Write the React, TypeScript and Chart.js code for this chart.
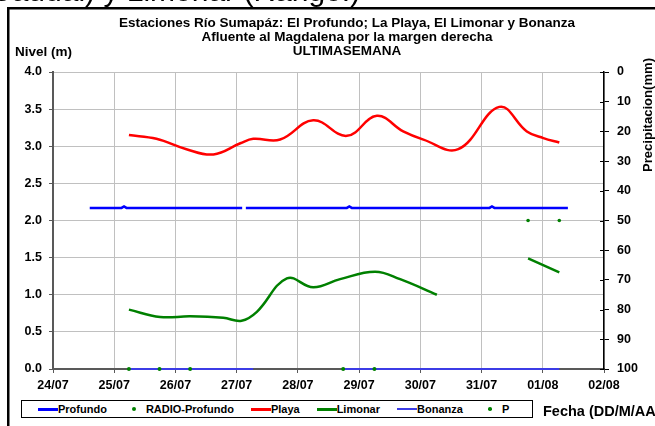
import React, { useEffect, useRef } from "react";
import { Chart, registerables } from "chart.js";

Chart.register(...registerables);

// ---------- data ----------
const dateLabels = ["24/07", "25/07", "26/07", "27/07", "28/07", "29/07", "30/07", "31/07", "01/08", "02/08"];

const titleLines = [
  "Estaciones Río Sumapáz: El Profundo; La Playa, El Limonar y Bonanza",
  "Afluente al Magdalena por la margen derecha",
  "ULTIMASEMANA",
];
const topCutText = "Caudal) y Limonar (Rango.)";
const leftAxisTitle = "Nivel (m)";
const rightAxisTitle = "Precipitacion(mm)";
const bottomAxisTitle = "Fecha (DD/M/AA)";

// x = days since 24/07 00:00
const profundoX = [0.6, 1.12, 1.16, 1.2, 3.09, 3.12, 3.15, 4.8, 4.84, 4.88, 7.13, 7.17, 7.21, 8.41];
const profundoY = [2.17, 2.17, 2.19, 2.17, 2.17, null, 2.17, 2.17, 2.19, 2.17, 2.17, 2.19, 2.17, 2.17];

const radioX = [1.24, 1.74, 2.24, 4.74, 5.25];
const radioY = [0, 0, 0, 0, 0];

const playaX = [1.24, 1.69, 2.18, 2.62, 3.06, 3.27, 3.71, 4.25, 4.8, 5.29, 5.72, 6.05, 6.62, 7.29, 7.74, 8.01, 8.27];
const playaY = [3.15, 3.1, 2.96, 2.89, 3.04, 3.1, 3.09, 3.35, 3.14, 3.41, 3.2, 3.09, 2.96, 3.53, 3.2, 3.11, 3.05];

const limonarX = [1.24, 1.75, 2.24, 2.78, 3.08, 3.33, 3.82, 4.25, 4.69, 5.26, 5.67, 6.27, 7.0, 7.76, 8.27];
const limonarY = [0.8, 0.7, 0.71, 0.69, 0.65, 0.77, 1.22, 1.1, 1.21, 1.31, 1.21, 1.0, null, 1.49, 1.3];

const bonanzaX = [1.24, 3.27, 4.0, 4.74, 8.27];
const bonanzaY = [0, 0, null, 0, 0];

const precipX = [7.76, 8.27];
const precipY = [50, 50];

const seriesNames = ["Profundo", "RADIO-Profundo", "Playa", "Limonar", "Bonanza", "P"];

// ---------- styles ----------
const FONT = "'Liberation Sans', Arial, sans-serif";
const BLUE = "#0000ff";
const GREEN = "#008000";
const RED = "#ff0000";
const BONANZA = "#3c3ce6";
const GRID = "#c0c0c0";
const AXIS = "#595959";

const zip = (xs: number[], ys: (number | null)[]) => xs.map((x, i) => ({ x, y: ys[i] }));

const decorPlugin = {
  id: "decor",
  afterDraw(chart: any) {
    const ctx = chart.ctx as CanvasRenderingContext2D;
    const area = chart.chartArea;
    ctx.save();
    // cut-off text at the very top
    ctx.fillStyle = "#000";
    ctx.font = `30px ${FONT}`;
    ctx.textAlign = "left";
    ctx.textBaseline = "alphabetic";
    ctx.fillText(topCutText, -10, 1);

    // frame
    ctx.fillRect(7, 7, chart.width - 7, 2.5);
    ctx.fillRect(7, 7, 2.5, chart.height - 7);

    // titles
    ctx.font = `bold 13.5px ${FONT}`;
    ctx.textAlign = "center";
    ctx.textBaseline = "middle";
    const widths = [458, 292, 115];
    const ys = [23, 37, 51];
    titleLines.forEach((t, i) => ctx.fillText(t, 347, ys[i], widths[i]));

    // left axis title
    ctx.textAlign = "left";
    ctx.fillText(leftAxisTitle, 15, 52);

    // right axis title (rotated)
    ctx.save();
    ctx.translate(648, 115);
    ctx.rotate(-Math.PI / 2);
    ctx.textAlign = "center";
    ctx.fillText(rightAxisTitle, 0, 0, 114);
    ctx.restore();

    // bottom axis title (runs off the right edge as in the original)
    ctx.font = `bold 14.5px ${FONT}`;
    ctx.fillText(bottomAxisTitle, 543, 412);

    // inner part of crossing ticks on right axis
    const y1 = chart.scales.y1;
    ctx.strokeStyle = "#000";
    ctx.lineWidth = 1;
    y1.ticks.forEach((t: any) => {
      const py = Math.round(y1.getPixelForValue(t.value)) + 0.5;
      ctx.beginPath();
      ctx.moveTo(area.right - 4, py);
      ctx.lineTo(area.right, py);
      ctx.stroke();
    });
    ctx.restore();
  },
};

function ChartCanvas() {
  const ref = useRef<HTMLCanvasElement | null>(null);
  useEffect(() => {
    if (!ref.current) return;
    const tickFont = { family: FONT, size: 12.5, weight: "bold" as const };
    const chart = new Chart(ref.current, {
      type: "line",
      data: {
        datasets: [
          {
            label: seriesNames[0],
            data: zip(profundoX, profundoY),
            borderColor: BLUE,
            borderWidth: 2.5,
            pointRadius: 0,
            tension: 0,
            spanGaps: false,
            yAxisID: "y",
            order: 3,
            clip: false,
          },
          {
            label: seriesNames[1],
            data: zip(radioX, radioY),
            showLine: false,
            pointRadius: 2,
            pointBorderWidth: 0,
            pointBackgroundColor: GREEN,
            borderColor: GREEN,
            yAxisID: "y",
            order: 0,
            clip: false,
          },
          {
            label: seriesNames[2],
            data: zip(playaX, playaY),
            borderColor: RED,
            borderWidth: 2.5,
            pointRadius: 0,
            tension: 0.4,
            yAxisID: "y",
            order: 2,
            clip: false,
          },
          {
            label: seriesNames[3],
            data: zip(limonarX, limonarY),
            borderColor: GREEN,
            borderWidth: 2.5,
            pointRadius: 0,
            tension: 0.4,
            spanGaps: false,
            yAxisID: "y",
            order: 2,
            clip: false,
          },
          {
            label: seriesNames[4],
            data: zip(bonanzaX, bonanzaY),
            borderColor: BONANZA,
            borderWidth: 2,
            pointRadius: 0,
            tension: 0,
            spanGaps: false,
            yAxisID: "y",
            order: 1,
            clip: false,
          },
          {
            label: seriesNames[5],
            data: zip(precipX, precipY),
            showLine: false,
            pointRadius: 1.8,
            pointBorderWidth: 0,
            pointBackgroundColor: GREEN,
            borderColor: GREEN,
            yAxisID: "y1",
            order: 0,
            clip: false,
          },
        ],
      },
      options: {
        animation: false,
        responsive: false,
        devicePixelRatio: 1,
        layout: { padding: { top: 72, left: 0, right: 0, bottom: 0 } },
        plugins: {
          legend: { display: false },
          title: { display: false },
          tooltip: { enabled: false },
        },
        scales: {
          x: {
            type: "linear",
            min: 0,
            max: 9,
            afterFit: (s: any) => {
              s.height = 57;
            },
            ticks: {
              stepSize: 1,
              autoSkip: false,
              maxRotation: 0,
              padding: 5,
              color: "#000",
              font: tickFont,
              callback: (v: any) => dateLabels[Math.round(Number(v))] ?? "",
            },
            grid: { color: GRID, lineWidth: 1, tickLength: 4, tickColor: AXIS },
            border: { color: AXIS, width: 2 },
          },
          y: {
            type: "linear",
            position: "left",
            min: 0,
            max: 4,
            afterFit: (s: any) => {
              s.width = 53;
            },
            ticks: {
              stepSize: 0.5,
              padding: 7,
              color: "#000",
              font: tickFont,
              callback: (v: any) => Number(v).toFixed(1),
            },
            grid: { color: GRID, lineWidth: 1, tickLength: 4, tickColor: AXIS },
            border: { color: AXIS, width: 2 },
          },
          y1: {
            type: "linear",
            position: "right",
            min: 0,
            max: 100,
            reverse: true,
            afterFit: (s: any) => {
              s.width = 51;
            },
            ticks: {
              stepSize: 10,
              padding: 8,
              color: "#000",
              font: tickFont,
            },
            grid: { drawOnChartArea: false, tickLength: 5, tickColor: "#000", lineWidth: 1 },
            border: { color: "#000", width: 1.5 },
          },
        },
      },
      plugins: [decorPlugin],
    });
    return () => chart.destroy();
  }, []);
  return <canvas ref={ref} width={655} height={426} style={{ position: "absolute", left: 0, top: 0 }} />;
}

function LegendMarker({ kind, color }: { kind: string; color: string }) {
  if (kind === "dot" || kind === "smalldot") {
    const d = kind === "dot" ? 4 : 3.5;
    return (
      <span style={{ width: 20, height: 18, display: "inline-flex", alignItems: "center", justifyContent: "center" }}>
        <span style={{ width: d, height: d, borderRadius: "50%", background: color, display: "block" }} />
      </span>
    );
  }
  return (
    <span style={{ width: 20, height: 18, display: "inline-flex", alignItems: "center" }}>
      <span style={{ width: 20, height: kind === "thin" ? 2.5 : 3, background: color, display: "block" }} />
    </span>
  );
}

const legendKinds = ["line", "dot", "line", "line", "thin", "smalldot"];
const legendColors = [BLUE, GREEN, RED, GREEN, BONANZA, GREEN];

export default function App() {
  return (
    <div
      style={{
        position: "fixed",
        left: 0,
        top: 0,
        width: 655,
        height: 426,
        overflow: "hidden",
        background: "#fff",
      }}
    >
      <ChartCanvas />
      <div
        style={{
          position: "absolute",
          left: 21,
          top: 400,
          width: 512,
          height: 18,
          boxSizing: "border-box",
          border: "1px solid #000",
          display: "flex",
          alignItems: "center",
          paddingLeft: 16,
          gap: 17,
          fontFamily: FONT,
          fontWeight: "bold",
          fontSize: 11,
          color: "#000",
          background: "#fff",
          whiteSpace: "nowrap",
        }}
      >
        {seriesNames.map((n, i) => (
          <span key={n} style={{ display: "inline-flex", alignItems: "center" }}>
            <LegendMarker kind={legendKinds[i]} color={legendColors[i]} />
            <span style={{ marginLeft: i === 1 || i === 5 ? 2 : 0 }}>{n}</span>
          </span>
        ))}
      </div>
    </div>
  );
}
